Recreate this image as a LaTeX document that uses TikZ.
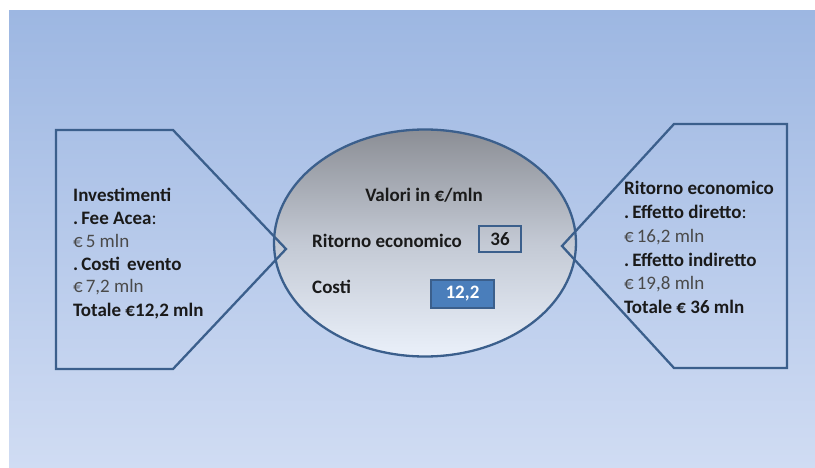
\documentclass[tikz,border=0pt]{standalone}
\usepackage{fontspec}
\setmainfont{Carlito}
\usetikzlibrary{shapes.geometric}
\definecolor{bgtop}{HTML}{9DB7E2}
\definecolor{bgbot}{HTML}{D0DCF3}
\definecolor{edge}{HTML}{3B5F8C}
\definecolor{elltop}{HTML}{8B8E95}
\definecolor{ellmid}{HTML}{C3C9D4}
\definecolor{ellbot}{HTML}{EAF0FA}
\definecolor{boxblue}{HTML}{4A7EBB}
\definecolor{txtgray}{HTML}{4A4A4A}
\definecolor{txtdark}{HTML}{1A1A1A}
\tikzset{
  pentline/.style={draw=edge, line width=2.3pt, line join=miter},
  itemtxt/.style={anchor=west, inner sep=0pt, font=\fontsize{19}{21}\selectfont, text=txtdark},
  valbox/.style={draw=edge, line width=2pt, inner sep=0pt, minimum width=42pt, minimum height=26pt, font=\bfseries\fontsize{19}{21}\selectfont}
}
\begin{document}
\begin{tikzpicture}[x=1pt,y=-1pt]
\useasboundingbox (0,0) rectangle (815,468);
\fill[white] (0,0) rectangle (815,468);
\shade[top color=bgtop, bottom color=bgbot] (9,11) rectangle (815,468);
% ellipse
\node[ellipse, draw=edge, line width=2.3pt, minimum width=302pt, minimum height=227pt, inner sep=0pt,
  top color=elltop, bottom color=ellbot, middle color=ellmid] (ell) at (425,243) {};
% left pentagon
\coordinate (l1) at (56,130);
\coordinate (l2) at (173,130);
\coordinate (l3) at (286,249);
\coordinate (l4) at (173,369);
\coordinate (l5) at (56,369);
\draw[pentline] (l1) -- (l2) -- (l3) -- (l4) -- (l5) -- cycle;
% right pentagon
\coordinate (r1) at (787,124);
\coordinate (r2) at (674,124);
\coordinate (r3) at (562,246);
\coordinate (r4) at (674,368);
\coordinate (r5) at (787,368);
\draw[pentline] (r1) -- (r2) -- (r3) -- (r4) -- (r5) -- cycle;
% left text
\node[itemtxt] (la) at (73,195) {\bfseries Investimenti};
\node[itemtxt] (lb) at (73,218) {\bfseries .\hspace{3pt}Fee Acea\mdseries:};
\node[itemtxt, text=txtgray] (lc) at (73,241) {€\hspace{3pt}5 mln};
\node[itemtxt] (ld) at (73,264) {\bfseries .\hspace{3pt}Costi\hspace{7pt}evento};
\node[itemtxt, text=txtgray] (le) at (73,287) {€\hspace{3pt}7,2 mln};
\node[itemtxt] (lf) at (73,311) {\bfseries Totale €12,2 mln};
% right text
\node[itemtxt] (ra) at (624,188) {\bfseries Ritorno economico};
\node[itemtxt] (rb) at (624,212) {\bfseries .\hspace{3pt}Effetto diretto\mdseries:};
\node[itemtxt, text=txtgray] (rc) at (624,237) {€\hspace{3pt}16,2 mln};
\node[itemtxt] (rd) at (624,260) {\bfseries .\hspace{3pt}Effetto indiretto};
\node[itemtxt, text=txtgray] (re) at (624,284) {€\hspace{3pt}19,8 mln};
\node[itemtxt] (rf) at (624,307) {\bfseries Totale € 36 mln};
% ellipse text
\node[inner sep=0pt, font=\bfseries\fontsize{19}{21}\selectfont, text=txtdark] (vt) at (424,195) {Valori in €/mln};
\node[itemtxt] (ret) at (312,241) {\bfseries Ritorno economico};
\node[itemtxt] (cos) at (312,287) {\bfseries Costi};
\node[valbox, fill=none, text=txtdark] (b36) at (500,239) {36};
\node[valbox, fill=boxblue, text=white, minimum width=63pt, minimum height=28pt] (b12) at (462.5,294) {12,2};
\end{tikzpicture}
\end{document}
